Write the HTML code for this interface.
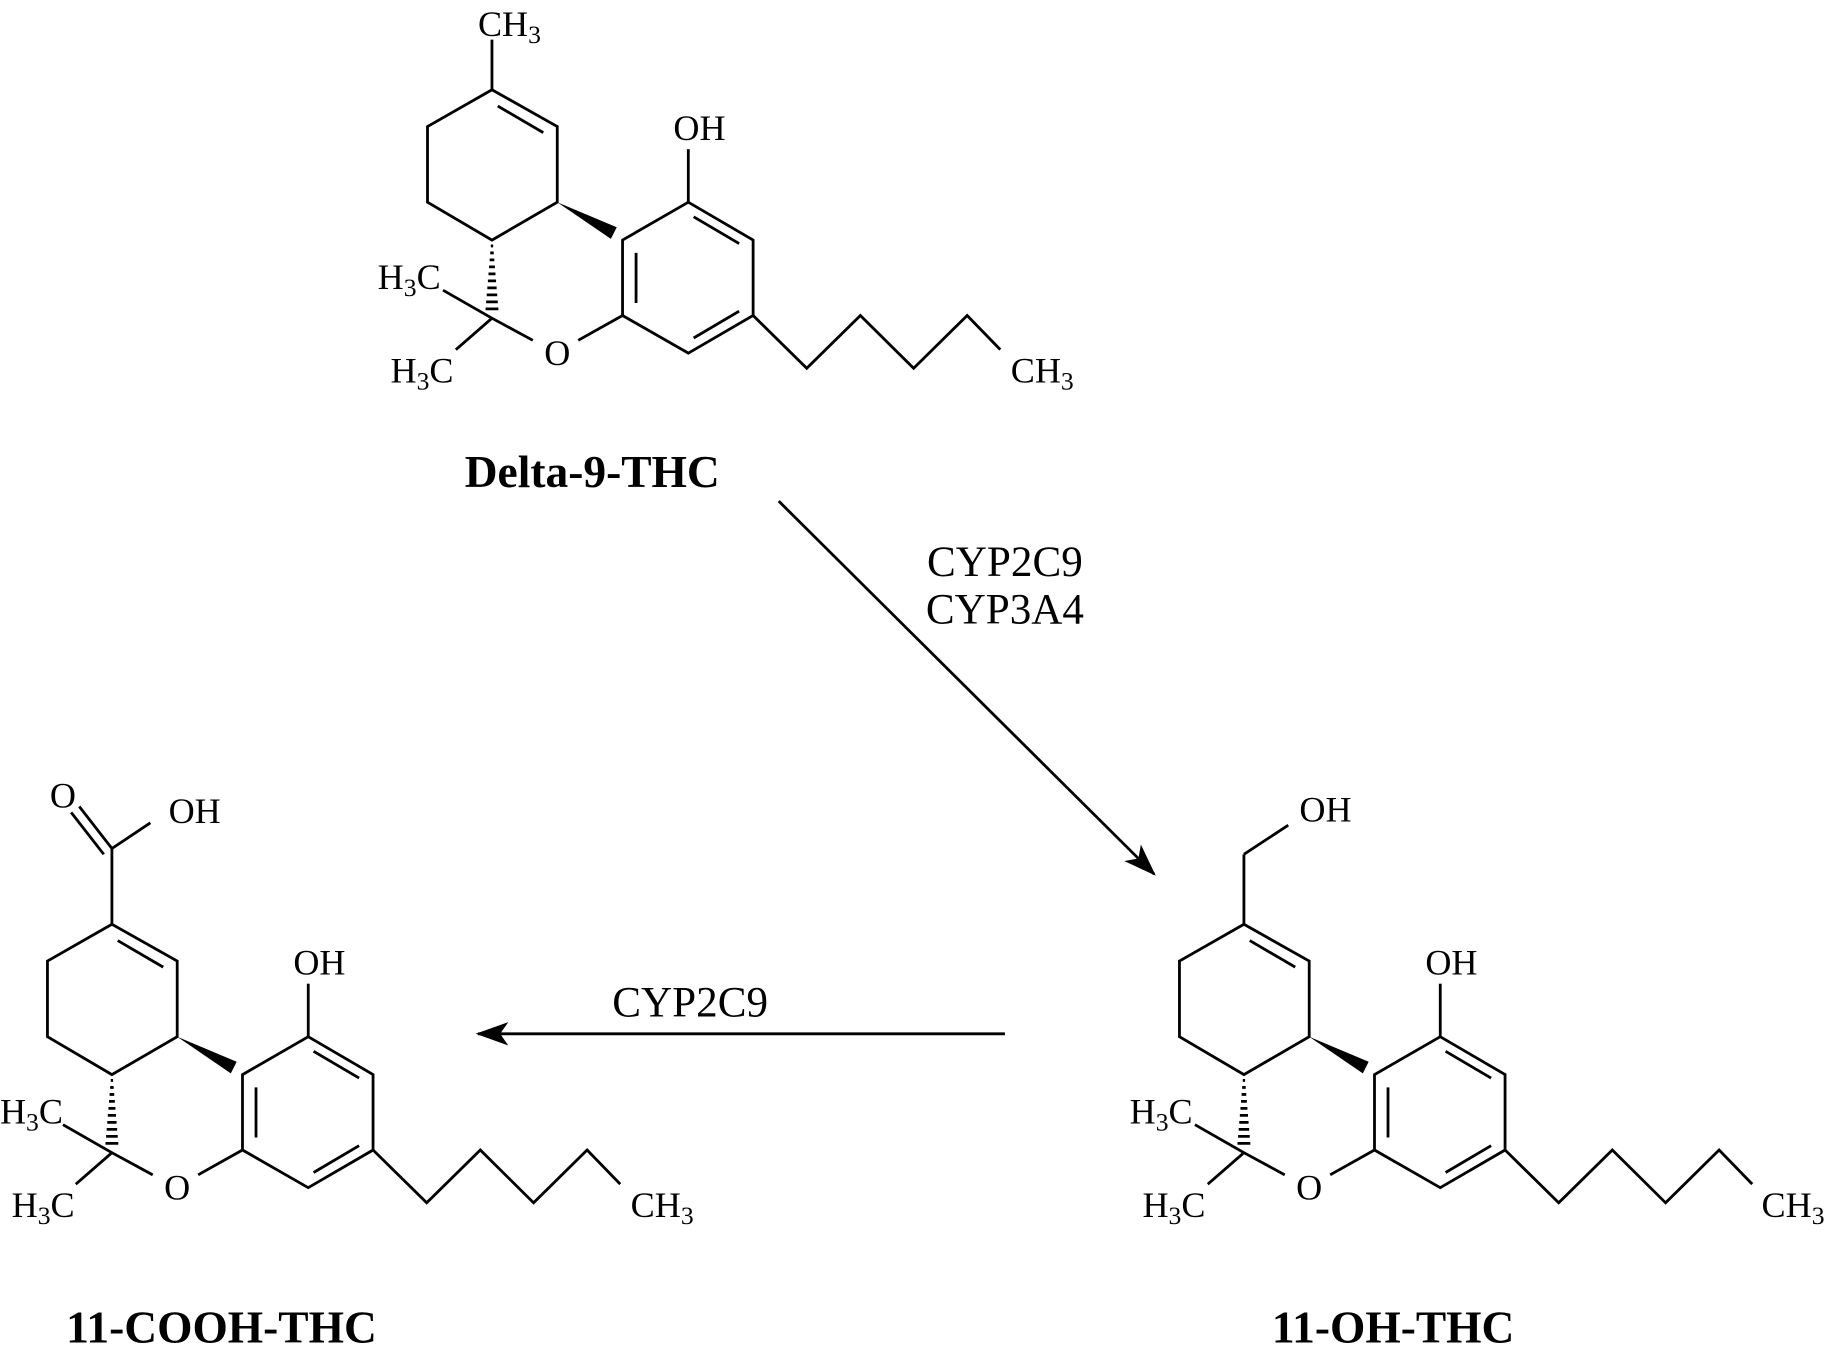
<!DOCTYPE html>
<html><head><meta charset="utf-8"><style>
html,body{margin:0;padding:0;background:#fff;}
svg{display:block;}
text{font-family:"Liberation Serif",serif;font-size:31px;fill:#000;}
.s{font-size:22px;}
.b{font-weight:bold;font-size:39px;}
.e{font-size:37px;}
</style></head><body>
<svg width="1828" height="1345" viewBox="0 0 1568 1154" preserveAspectRatio="none" xmlns="http://www.w3.org/2000/svg">
<defs>
<marker id="ah" viewBox="0 0 28 20" refX="26" refY="10" markerWidth="28" markerHeight="20" markerUnits="userSpaceOnUse" orient="auto">
<path d="M0,0 L28,10 L0,20 L7,10 Z" fill="#000"/>
</marker>
</defs>
<g fill="none" stroke="#000" stroke-width="2.4" stroke-linejoin="miter">

<g>
<path d="M422,34 L422,77"/>
<path d="M366.7,108.6 L422,77 L478,108.6 L478,173.5 L422,206 L366.7,173.5 Z"/>
<path d="M427,91 L466,113.8"/>
<polygon points="478,173.5 529,195 524,205" fill="#000" stroke="none"/>
<path d="M534,206 L590.4,173.5 L646,206 L646,270.7 L590.4,303 L534,270.7 Z"/>
<path d="M545.6,217 L545.6,260 M595,186 L634,209 M595,290 L634,267"/>
<path d="M590.4,128 L590.4,173.5"/>
<path d="M421,211 h2 M420.5,217 h3 M420,223 h4 M419.5,229 h5 M419,235 h6 M418.5,241 h7 M418,247 h8 M417.5,253 h9 M417,259 h10 M416.5,265 h11"/>
<path d="M380,249 L422,273 L391,300 M422,273 L457,292 M496,292 L534,270.7"/>
<path d="M646,270.7 L692,316 L738,270.7 L783.7,316 L829.6,270.7 L858,300"/>
</g>

<g transform="translate(645,716)">
<path d="M422,17 L422,77 M422,17 L460,-8"/>
<path d="M366.7,108.6 L422,77 L478,108.6 L478,173.5 L422,206 L366.7,173.5 Z"/>
<path d="M427,91 L466,113.8"/>
<polygon points="478,173.5 529,195 524,205" fill="#000" stroke="none"/>
<path d="M534,206 L590.4,173.5 L646,206 L646,270.7 L590.4,303 L534,270.7 Z"/>
<path d="M545.6,217 L545.6,260 M595,186 L634,209 M595,290 L634,267"/>
<path d="M590.4,128 L590.4,173.5"/>
<path d="M421,211 h2 M420.5,217 h3 M420,223 h4 M419.5,229 h5 M419,235 h6 M418.5,241 h7 M418,247 h8 M417.5,253 h9 M417,259 h10 M416.5,265 h11"/>
<path d="M380,249 L422,273 L391,300 M422,273 L457,292 M496,292 L534,270.7"/>
<path d="M646,270.7 L692,316 L738,270.7 L783.7,316 L829.6,270.7 L858,300"/>
</g>

<g transform="translate(-326,716)">
<path d="M422,12 L422,77"/>
<path d="M422,12 L394,-24 M415,17 L387,-19"/>
<path d="M422,12 L455,-10"/>
<path d="M366.7,108.6 L422,77 L478,108.6 L478,173.5 L422,206 L366.7,173.5 Z"/>
<path d="M427,91 L466,113.8"/>
<polygon points="478,173.5 529,195 524,205" fill="#000" stroke="none"/>
<path d="M534,206 L590.4,173.5 L646,206 L646,270.7 L590.4,303 L534,270.7 Z"/>
<path d="M545.6,217 L545.6,260 M595,186 L634,209 M595,290 L634,267"/>
<path d="M590.4,128 L590.4,173.5"/>
<path d="M421,211 h2 M420.5,217 h3 M420,223 h4 M419.5,229 h5 M419,235 h6 M418.5,241 h7 M418,247 h8 M417.5,253 h9 M417,259 h10 M416.5,265 h11"/>
<path d="M380,249 L422,273 L391,300 M422,273 L457,292 M496,292 L534,270.7"/>
<path d="M646,270.7 L692,316 L738,270.7 L783.7,316 L829.6,270.7 L858,300"/>
</g>

<path d="M668,430 L990,750" marker-end="url(#ah)"/>
<path d="M862,887 L410,887" marker-end="url(#ah)"/>
</g>

<text x="437" y="31" text-anchor="middle">CH<tspan class="s" dy="6">3</tspan></text>
<text x="600" y="120" text-anchor="middle">OH</text>
<text x="351" y="248" text-anchor="middle">H<tspan class="s" dy="6">3</tspan><tspan dy="-6">C</tspan></text>
<text x="362" y="328" text-anchor="middle">H<tspan class="s" dy="6">3</tspan><tspan dy="-6">C</tspan></text>
<text x="478" y="313" text-anchor="middle">O</text>
<text x="894" y="328" text-anchor="middle">CH<tspan class="s" dy="6">3</tspan></text>
<text x="508" y="418" text-anchor="middle" class="b">Delta-9-THC</text>

<text x="1137" y="705" text-anchor="middle">OH</text>
<text x="1245" y="836" text-anchor="middle">OH</text>
<text x="996" y="964" text-anchor="middle">H<tspan class="s" dy="6">3</tspan><tspan dy="-6">C</tspan></text>
<text x="1007" y="1044" text-anchor="middle">H<tspan class="s" dy="6">3</tspan><tspan dy="-6">C</tspan></text>
<text x="1123" y="1029" text-anchor="middle">O</text>
<text x="1538" y="1044" text-anchor="middle">CH<tspan class="s" dy="6">3</tspan></text>
<text x="1195" y="1152" text-anchor="middle" class="b">11-OH-THC</text>

<text x="54" y="693" text-anchor="middle">O</text>
<text x="167" y="706" text-anchor="middle">OH</text>
<text x="274" y="836" text-anchor="middle">OH</text>
<text x="27" y="964" text-anchor="middle">H<tspan class="s" dy="6">3</tspan><tspan dy="-6">C</tspan></text>
<text x="37" y="1044" text-anchor="middle">H<tspan class="s" dy="6">3</tspan><tspan dy="-6">C</tspan></text>
<text x="152" y="1029" text-anchor="middle">O</text>
<text x="568" y="1044" text-anchor="middle">CH<tspan class="s" dy="6">3</tspan></text>
<text x="190" y="1152" text-anchor="middle" class="b">11-COOH-THC</text>

<text x="862" y="494" text-anchor="middle" class="e">CYP2C9</text>
<text x="862" y="535" text-anchor="middle" class="e">CYP3A4</text>
<text x="592" y="872" text-anchor="middle" class="e">CYP2C9</text>
</svg>
</body></html>
